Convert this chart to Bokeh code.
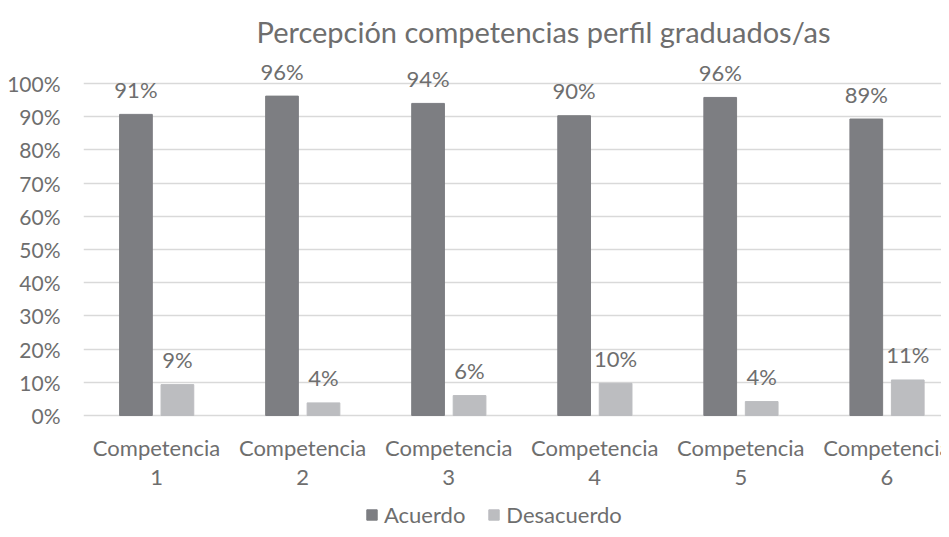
from bokeh.plotting import figure
from bokeh.models import (ColumnDataSource, FixedTicker, LabelSet, Legend, LegendItem,
                          Range1d, NumeralTickFormatter)
from bokeh.core.properties import value
from bokeh.transform import dodge
from bokeh.embed import file_html
from bokeh.resources import INLINE

title_text = "Percepción competencias perfil graduados/as"
categories = ["Competencia 1", "Competencia 2", "Competencia 3",
              "Competencia 4", "Competencia 5", "Competencia 6"]
acuerdo = [0.907, 0.962, 0.940, 0.903, 0.958, 0.893]
desacuerdo = [0.093, 0.038, 0.060, 0.097, 0.042, 0.107]
series_names = ["Acuerdo", "Desacuerdo"]
y_ticks = [0, 0.1, 0.2, 0.3, 0.4, 0.5, 0.6, 0.7, 0.8, 0.9, 1.0]

FONT = "Lato"
TXT = "#6e6e6e"
DARK = "#7d7e82"
LIGHT = "#bcbdc0"
FS = "22px"

xs = [i + 0.5 for i in range(len(categories))]
src = ColumnDataSource(dict(
    x=xs,
    base=[0.0] * len(categories),
    word=[c.rsplit(" ", 1)[0] for c in categories],
    num=[c.rsplit(" ", 1)[1] for c in categories],
    acuerdo=acuerdo,
    desacuerdo=desacuerdo,
    lab_a=[f"{round(v*100):d}%" for v in acuerdo],
    lab_d=[f"{round(v*100):d}%" for v in desacuerdo],
))

p = figure(width=941, height=529, output_backend="svg", toolbar_location=None,
           x_range=Range1d(0, 5.874), y_range=Range1d(-0.3434, 1.0994),
           x_axis_location=None,
           min_border_left=83, min_border_right=0, min_border_top=50,
           min_border_bottom=0)
p.outline_line_color = None
p.background_fill_color = "white"
p.border_fill_color = "white"

p.title.text = title_text
p.title.align = "left"
p.title.offset = 173
p.title.text_font = FONT
p.title.text_font_size = "29px"
p.title.text_font_style = "normal"
p.title.text_color = TXT
p.title.standoff = 3

w = 0.224
r1 = p.vbar(x=dodge("x", -0.141), top="acuerdo", width=w, source=src, color=DARK)
r2 = p.vbar(x=dodge("x", 0.143), top="desacuerdo", width=w, source=src, color=LIGHT)

for xoff, col, field in [(-0.141, "acuerdo", "lab_a"), (0.143, "desacuerdo", "lab_d")]:
    p.add_layout(LabelSet(x=dodge("x", xoff), y=col, text=field, source=src,
                          y_offset=25, text_align="center", text_baseline="middle",
                          text_font=value(FONT), text_font_size=FS, text_color=TXT))

for field, yoff in [("word", -31.7), ("num", -61.7)]:
    p.add_layout(LabelSet(x="x", y="base", text=field, source=src,
                          y_offset=yoff, text_align="center", text_baseline="middle",
                          text_font=value(FONT), text_font_size=FS, text_color=TXT))

p.yaxis.ticker = FixedTicker(ticks=y_ticks)
p.yaxis.formatter = NumeralTickFormatter(format="0%")
p.yaxis.axis_line_color = None
p.yaxis.major_tick_line_color = None
p.yaxis.minor_tick_line_color = None
p.yaxis.major_tick_out = 0
p.yaxis.major_tick_in = 0
p.yaxis.major_label_standoff = 23
p.yaxis.major_label_text_font = FONT
p.yaxis.major_label_text_font_size = "21px"
p.yaxis.major_label_text_color = TXT

p.xgrid.grid_line_color = None
p.ygrid.ticker = FixedTicker(ticks=y_ticks)
p.ygrid.grid_line_color = "#d9d9d9"
p.ygrid.grid_line_width = 1.3

legend = Legend(items=[LegendItem(label=series_names[0], renderers=[r1]),
                       LegendItem(label=series_names[1], renderers=[r2])],
                orientation="horizontal", location=(282, 1),
                glyph_width=13, glyph_height=13, label_standoff=6, spacing=22,
                label_text_font=FONT, label_text_font_size=FS, label_text_color=TXT,
                border_line_color=None, background_fill_alpha=0, padding=0, margin=0)
p.add_layout(legend, "center")

open("out.html", "w").write(file_html(p, INLINE))
